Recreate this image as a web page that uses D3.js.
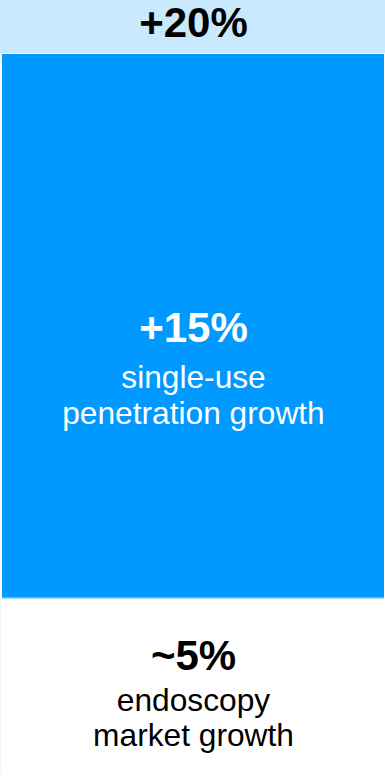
<!DOCTYPE html>
<html>
<head>
<meta charset="utf-8">
<script src="https://cdn.jsdelivr.net/npm/d3@7"></script>
<style>
  html, body { margin: 0; padding: 0; background: #ffffff; }
  svg { display: block; }
  text { font-family: "Liberation Sans", Arial, sans-serif; }
</style>
</head>
<body>
<div id="chart"></div>
<script>
// Growth build-up: endoscopy market growth plus single-use penetration growth
const segmentKeys   = ["market", "singleUse"];
const segmentValues = [5, 15];
const valueLabels   = ["~5%", "+15%"];
const segmentLines  = [["endoscopy", "market growth"], ["single-use", "penetration growth"]];
const totalLabel    = "+20%";

const W = 385, H = 778;
const headerH = 54;
const total = d3.sum(segmentValues);

const svg = d3.select("#chart").append("svg")
  .attr("width", W).attr("height", H);

const y = d3.scaleLinear().domain([0, total]).range([H + 1, headerH]);
const x = d3.scaleBand().domain(["bar"]).range([0, W]).paddingInner(0).paddingOuter(0);

const stacked = d3.stack().keys(segmentKeys)([
  Object.fromEntries(segmentKeys.map((k, i) => [k, segmentValues[i]]))
]);

const fills   = { market: "#ffffff", singleUse: "#0099ff" };
const textCol = { market: "#000000", singleUse: "#ffffff" };

// total header band
svg.append("rect")
  .attr("x", 0).attr("y", 0)
  .attr("width", W).attr("height", headerH - 1)
  .attr("fill", "#c9e9ff");

svg.append("text")
  .attr("x", W / 2 + 1).attr("y", 37)
  .attr("text-anchor", "middle")
  .attr("font-size", 42).attr("font-weight", "bold")
  .attr("fill", "#000")
  .text(totalLabel);

// stacked segments
const seg = svg.selectAll("g.seg").data(stacked).join("g").attr("class", "seg");

seg.append("rect")
  .attr("x", x("bar") + 2)
  .attr("width", x.bandwidth() - 3)
  .attr("y", d => y(d[0][1]))
  .attr("height", d => y(d[0][0]) - y(d[0][1]))
  .attr("fill", d => fills[d.key]);

// thin edge under the blue block and faint left edge of the base segment
const base = stacked[0];
svg.append("line")
  .attr("x1", 2).attr("x2", W - 1)
  .attr("y1", y(base[0][1]) + 0.5).attr("y2", y(base[0][1]) + 0.5)
  .attr("stroke", "#8fd0ff").attr("stroke-width", 1);
svg.append("line")
  .attr("x1", 0.5).attr("x2", 0.5)
  .attr("y1", y(base[0][1])).attr("y2", H - 4)
  .attr("stroke", "#edf6ff").attr("stroke-width", 1);

// labels positioned relative to each segment's top edge
const labelOffsets = { market: [72, 113, 148], singleUse: [288, 334, 370] };

seg.each(function(d, i) {
  const g = d3.select(this);
  const top = y(d[0][1]);
  const off = labelOffsets[d.key];
  g.append("text")
    .attr("x", W / 2 + 1).attr("y", top + off[0])
    .attr("text-anchor", "middle")
    .attr("font-size", 42).attr("font-weight", "bold")
    .attr("fill", textCol[d.key])
    .text(valueLabels[i]);
  segmentLines[i].forEach((line, j) => {
    g.append("text")
      .attr("x", W / 2 + 1).attr("y", top + off[j + 1])
      .attr("text-anchor", "middle")
      .attr("font-size", 31.7)
      .attr("fill", textCol[d.key])
      .text(line);
  });
});
</script>
</body>
</html>
